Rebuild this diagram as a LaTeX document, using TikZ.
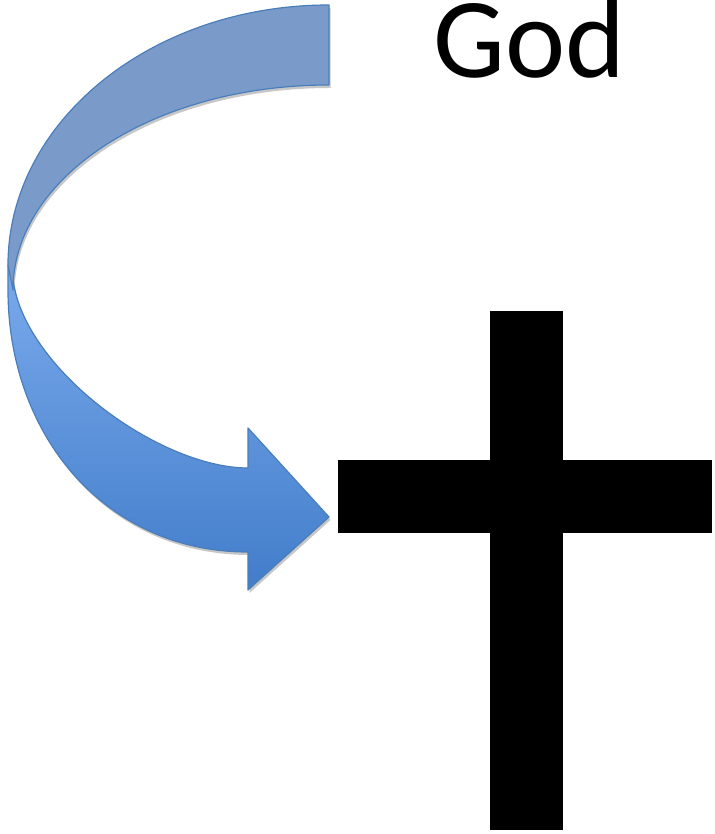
\documentclass[tikz,border=0pt]{standalone}
\usepackage{fontspec}
\setmainfont{Carlito}
\usepackage{tikz}
\usetikzlibrary{positioning}

\definecolor{backblue}{RGB}{122,155,202}
\definecolor{frontlight}{RGB}{122,170,236}
\definecolor{frontdark}{RGB}{66,125,202}
\definecolor{rimblue}{RGB}{74,126,187}

% the two halves of the curved arrow
\newcommand{\backbandpath}{(329,829) arc[start angle=90, end angle=180, x radius=321, y radius=260]
    -- (13,544) arc[start angle=180, end angle=90, x radius=316, y radius=205] -- cycle}
\newcommand{\frontbandpath}{(8,569) -- (8,544) .. controls (8,399) and (105,282) .. (248,282)
    -- (248,244) -- (329,317) -- (248,406) -- (248,366)
    .. controls (160,366) and (25,464) .. (13,554) -- cycle}

\begin{document}
\begin{tikzpicture}[
        x=1pt, y=1pt,
        shadowband/.style={fill=black!22, draw=none},
        backband/.style={fill=backblue, draw=rimblue, line width=1.2pt, line join=round},
        frontband/.style={top color=frontlight, bottom color=frontdark, draw=rimblue, line width=1.2pt, line join=round},
        crossbar/.style={fill=black, draw=none},
        title/.style={font=\fontsize{114}{114}\selectfont, inner sep=0pt, anchor=base west}
    ]
    \useasboundingbox (0,0) rectangle (714,834);

    % shadow under the arrow
    \begin{scope}[shift={(1.5,-3)}]
        \path[shadowband] \frontbandpath;
        \path[shadowband] \backbandpath;
    \end{scope}

    \path[frontband] \frontbandpath;
    \path[backband] \backbandpath;

    % cross
    \path[crossbar] (490,4) rectangle (563,523);
    \path[crossbar] (338,301) rectangle (712,374);

    \node[title] (god) at (433,756) {God};
\end{tikzpicture}
\end{document}
